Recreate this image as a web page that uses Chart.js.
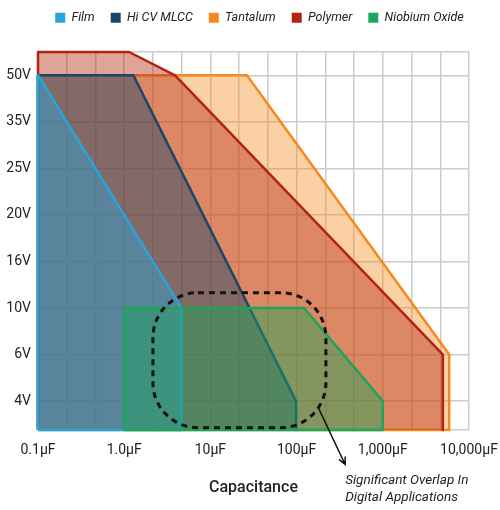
<!DOCTYPE html>
<html>
<head>
<meta charset="utf-8">
<script src="https://cdn.jsdelivr.net/npm/chart.js@4.4.1/dist/chart.umd.min.js"></script>
<style>
  html, body { margin: 0; padding: 0; background: #fff; }
  #wrap { width: 500px; height: 510px; }
</style>
</head>
<body>
<div id="wrap"><canvas id="capChart" width="500" height="510"></canvas></div>
<script>
// x is in thirds of a decade: 0 = 0.1uF, 3 = 1uF ... 15 = 10,000uF
// y is the voltage row: 0 = 4V ... 7 = 50V, -0.62 is the floor and 7.5 the ceiling
var capLabels = ['0.1µF', '1.0µF', '10µF', '100µF', '1,000µF', '10,000µF'];
var voltLabels = ['4V', '6V', '10V', '16V', '20V', '25V', '35V', '50V'];

var filmX = [0, 0, 5.0, 5.0, 0];
var filmY = [-0.62, 7, 2, -0.62, -0.62];

var mlccX = [0, 0, 3.32, 8.98, 8.98];
var mlccY = [-0.62, 7, 7, 0, -0.62];

var tantX = [0, 0, 7.27, 14.31, 14.31, 0];
var tantY = [-0.62, 7, 7, 1, -0.62, -0.62];

var polyX = [0, 0, 3.17, 4.77, 14.09, 14.09];
var polyY = [-0.62, 7.5, 7.5, 7, 1, -0.62];

var niobX = [3.0, 3.0, 9.26, 12.0, 12.0, 3.0];
var niobY = [-0.62, 2, 2, 0, -0.62, -0.62];

// dashed "overlap" box and its callout, in the same axis units
var boxX = [4.0, 10.02];
var boxY = [-0.57, 2.33];
var arrowX = [9.75, 10.69];
var arrowY = [-0.135, -1.36];
var noteLines = ['Significant Overlap In', 'Digital Applications'];
var noteY = [-1.7, -2.07];

function pts(xs, ys) {
    return xs.map(function (x, i) { return {x: x, y: ys[i]}; });
}

function series(label, xs, ys, color, fillColor, order) {
    return {
        label: label,
        data: pts(xs, ys),
        showLine: true,
        fill: 'shape',
        borderColor: color,
        backgroundColor: fillColor,
        borderWidth: 2.5,
        borderJoinStyle: 'round',
        pointRadius: 0,
        tension: 0,
        clip: false,
        order: order
    };
}

// more room under the legend, and nudge it right so it sits over the plot
var legendGap = {
    id: 'legendGap',
    beforeLayout: function (chart) {
        var lg = chart.legend;
        if (!lg || lg._gapPatched) return;
        var fit = lg.fit;
        lg.fit = function () {
            fit.call(this);
            this.height += 18;
        };
        lg._gapPatched = true;
    },
    afterLayout: function (chart) {
        if (chart.legend) chart.legend.left = 19;
    }
};

var overlapNote = {
    id: 'overlapNote',
    afterDatasetsDraw: function (chart) {
        var ctx = chart.ctx, xs = chart.scales.x, ys = chart.scales.y;
        var l = xs.getPixelForValue(boxX[0]), r = xs.getPixelForValue(boxX[1]);
        var t = ys.getPixelForValue(boxY[1]), b = ys.getPixelForValue(boxY[0]);
        var rad = 45;
        ctx.save();
        ctx.strokeStyle = '#111';
        ctx.lineWidth = 3;
        ctx.setLineDash([6, 5]);
        ctx.beginPath();
        ctx.moveTo(l + rad, t);
        ctx.arcTo(r, t, r, b, rad);
        ctx.arcTo(r, b, l, b, rad);
        ctx.arcTo(l, b, l, t, rad);
        ctx.arcTo(l, t, r, t, rad);
        ctx.closePath();
        ctx.stroke();

        // arrow to the note
        var x1 = xs.getPixelForValue(arrowX[0]), y1 = ys.getPixelForValue(arrowY[0]);
        var x2 = xs.getPixelForValue(arrowX[1]), y2 = ys.getPixelForValue(arrowY[1]);
        var ang = Math.atan2(y2 - y1, x2 - x1);
        ctx.setLineDash([]);
        ctx.lineWidth = 1.5;
        ctx.beginPath();
        ctx.moveTo(x1, y1);
        ctx.lineTo(x2, y2);
        ctx.moveTo(x2 - 8 * Math.cos(ang - 0.45), y2 - 8 * Math.sin(ang - 0.45));
        ctx.lineTo(x2, y2);
        ctx.lineTo(x2 - 8 * Math.cos(ang + 0.45), y2 - 8 * Math.sin(ang + 0.45));
        ctx.stroke();

        ctx.fillStyle = '#222';
        ctx.font = 'italic 13.5px Roboto';
        ctx.textAlign = 'left';
        ctx.textBaseline = 'middle';
        for (var i = 0; i < noteLines.length; i++) {
            ctx.fillText(noteLines[i], x2, ys.getPixelForValue(noteY[i]));
        }
        ctx.restore();
    }
};

var ctx = document.getElementById('capChart');
var capChart = new Chart(ctx, {
    type: 'scatter',
    data: {
        datasets: [
            series('Film', filmX, filmY, '#27a4dc', 'rgba(39,164,220,0.45)', 2),
            series('Hi CV MLCC', mlccX, mlccY, '#17476a', 'rgba(23,71,106,0.45)', 3),
            series('Tantalum', tantX, tantY, '#f58a1f', 'rgba(245,138,31,0.4)', 5),
            series('Polymer', polyX, polyY, '#b3230f', 'rgba(179,35,15,0.42)', 4),
            series('Niobium Oxide', niobX, niobY, '#1ba65c', 'rgba(27,166,92,0.45)', 1)
        ]
    },
    plugins: [legendGap, overlapNote],
    options: {
        responsive: false,
        animation: false,
        events: [],
        layout: {
            padding: {left: 0, right: 0, top: -4.5, bottom: 12}
        },
        plugins: {
            legend: {
                position: 'top',
                labels: {
                    boxWidth: 10,
                    boxHeight: 10,
                    padding: 16,
                    color: '#222',
                    font: {family: 'Roboto', size: 12.5, style: 'italic'},
                    sort: function (a, b) { return a.datasetIndex - b.datasetIndex; },
                    generateLabels: function (chart) {
                        var items = Chart.defaults.plugins.legend.labels.generateLabels(chart);
                        items.forEach(function (it) {
                            var ds = chart.data.datasets[it.datasetIndex];
                            it.fillStyle = ds.borderColor;
                            it.strokeStyle = ds.borderColor;
                            it.lineWidth = 0;
                        });
                        return items;
                    }
                }
            },
            tooltip: {enabled: false}
        },
        scales: {
            x: {
                type: 'linear',
                min: 0,
                max: 15,
                ticks: {
                    stepSize: 1,
                    autoSkip: false,
                    maxRotation: 0,
                    padding: 12,
                    color: '#222',
                    font: {family: 'Roboto', size: 14},
                    callback: function (v) {
                        var k = Math.round(v);
                        return (Math.abs(v - k) < 1e-6 && k % 3 === 0) ? capLabels[k / 3] : '';
                    }
                },
                grid: {color: '#cccccc', lineWidth: 1.5, drawTicks: false},
                border: {display: false},
                title: {
                    display: true,
                    text: 'Capacitance',
                    color: '#222',
                    font: {family: 'Roboto', size: 16, weight: '500'},
                    padding: {top: 8, bottom: 0}
                },
                afterFit: function (s) { s.paddingRight = 31; }
            },
            y: {
                type: 'linear',
                min: -0.62,
                max: 7.5,
                ticks: {
                    stepSize: 1,
                    padding: 7,
                    color: '#222',
                    font: {family: 'Roboto', size: 14},
                    callback: function (v) {
                        var k = Math.round(v);
                        return (Math.abs(v - k) < 1e-6 && voltLabels[k]) ? voltLabels[k] : '';
                    }
                },
                grid: {color: '#cccccc', lineWidth: 1.5, drawTicks: false},
                border: {display: false},
                afterFit: function (s) { s.width = 38; }
            }
        }
    }
});
</script>
</body>
</html>
